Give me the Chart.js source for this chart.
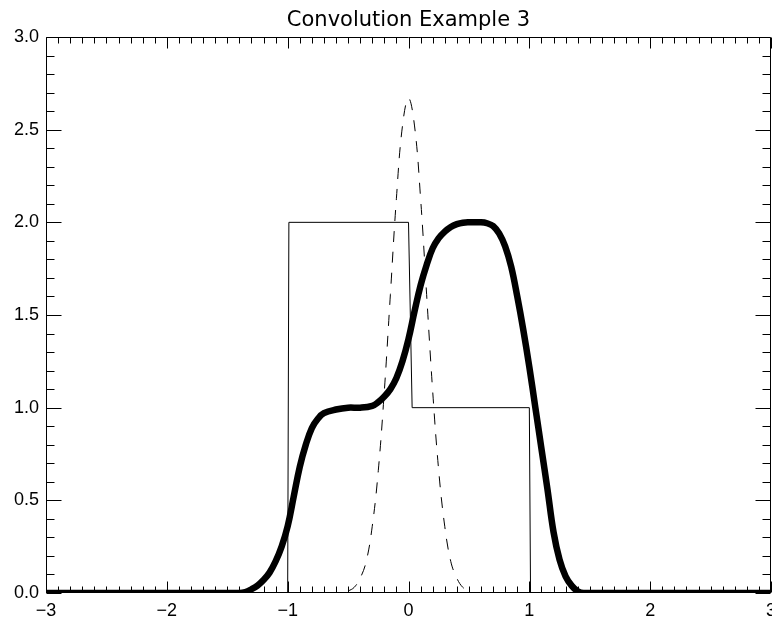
<!DOCTYPE html>
<html>
<head>
<meta charset="utf-8">
<script src="https://cdn.jsdelivr.net/npm/chart.js@4.4.1/dist/chart.umd.min.js"></script>
<style>
  html, body { margin: 0; padding: 0; background: #fff; overflow: hidden; }
  #wrap { width: 772px; height: 620px; overflow: hidden; }
</style>
</head>
<body>
<div id="wrap"><canvas id="convChart" width="800" height="620"></canvas></div>
<script>
// box step signal
const stepX = [-3, -1.0, -0.99, 0.0, 0.03, 1.0, 1.01, 3];
const stepY = [0, 0, 2, 2, 1, 1, 0, 0];

// gaussian kernel (dashed)
const kernelX = [-0.5, -0.45, -0.4, -0.35, -0.3, -0.25, -0.2, -0.15, -0.1, -0.05, 0,
                 0.05, 0.1, 0.15, 0.2, 0.25, 0.3, 0.35, 0.4, 0.45, 0.5];
const kernelY = [0.01, 0.03, 0.08, 0.17, 0.36, 0.66, 1.09, 1.61, 2.13, 2.52, 2.67,
                 2.52, 2.13, 1.61, 1.09, 0.66, 0.36, 0.17, 0.08, 0.03, 0.01];

// convolution result (thick)
const convX = [-3, -1.4, -1.35, -1.3, -1.25, -1.2, -1.15, -1.1, -1.05, -1.0, -0.95, -0.9, -0.85,
               -0.8, -0.75, -0.7, -0.6, -0.5, -0.4, -0.3, -0.25, -0.2, -0.15, -0.1, -0.05, 0.0,
               0.05, 0.1, 0.15, 0.2, 0.25, 0.3, 0.35, 0.4, 0.45, 0.5, 0.6, 0.65, 0.7, 0.75, 0.8, 0.85,
               0.9, 0.95, 1.0, 1.05, 1.1, 1.15, 1.2, 1.25, 1.3, 1.35, 1.4, 1.45, 3];
const convY = [0, 0, 0.005, 0.02, 0.04, 0.07, 0.11, 0.17, 0.25, 0.36, 0.52, 0.68, 0.8,
               0.89, 0.94, 0.97, 0.99, 1.0, 1.0, 1.01, 1.03, 1.06, 1.1, 1.16, 1.25, 1.37,
               1.52, 1.66, 1.77, 1.86, 1.915, 1.95, 1.975, 1.99, 1.998, 2.0, 2.0, 1.995, 1.98, 1.94,
               1.87, 1.76, 1.6, 1.42, 1.22, 1.0, 0.78, 0.56, 0.33, 0.18, 0.09, 0.04, 0.01, 0, 0];

const xTicks = [-3, -2, -1, 0, 1, 2, 3];
const xTickLabels = ['\u22123', '\u22122', '\u22121', '0', '1', '2', '3'];
const yTicks = [0, 0.5, 1, 1.5, 2, 2.5, 3];
const yTickLabels = ['0.0', '0.5', '1.0', '1.5', '2.0', '2.5', '3.0'];
const xMinorStep = 0.1;
const yMinorStep = 0.1;

const pts = (xs, ys) => xs.map((x, i) => ({ x: x, y: ys[i] }));

// IDL style frame with inward ticks on all four sides
const frameTicks = {
    id: 'frameTicks',
    beforeDatasetsDraw(chart) {
        const { ctx, chartArea: a, scales: { x, y } } = chart;
        const L = Math.round(a.left) + 0.5, R = Math.round(a.right) - 0.5;
        const T = Math.round(a.top) + 0.5, B = Math.round(a.bottom) - 0.5;
        ctx.save();
        ctx.strokeStyle = '#000';
        ctx.lineWidth = 1;
        ctx.beginPath();
        ctx.rect(L, T, R - L, B - T);
        for (let i = 0; i <= Math.round((x.max - x.min) / xMinorStep); i++) {
            const v = x.min + i * xMinorStep;
            const major = xTicks.some(t => Math.abs(t - v) < 1e-6);
            const len = major ? 11 : 6;
            const px = Math.round(x.getPixelForValue(v)) + 0.5;
            ctx.moveTo(px, B); ctx.lineTo(px, B - len);
            ctx.moveTo(px, T); ctx.lineTo(px, T + len);
        }
        for (let i = 0; i <= Math.round((y.max - y.min) / yMinorStep); i++) {
            const v = y.min + i * yMinorStep;
            const major = yTicks.some(t => Math.abs(t - v) < 1e-6);
            const len = major ? 15 : 8;
            const py = Math.round(y.getPixelForValue(v)) + 0.5;
            ctx.moveTo(L, py); ctx.lineTo(L + len, py);
            ctx.moveTo(R, py); ctx.lineTo(R - len, py);
        }
        ctx.stroke();
        ctx.restore();
    }
};

const labelFont = { family: '"Liberation Sans", Arial, sans-serif', size: 18 };

new Chart(document.getElementById('convChart'), {
    type: 'line',
    data: {
        datasets: [
            {
                label: 'Convolution',
                data: pts(convX, convY),
                borderColor: '#000',
                borderWidth: 6.5,
                pointRadius: 0,
                tension: 0.4,
                borderCapStyle: 'round',
                borderJoinStyle: 'round'
            },
            {
                label: 'Step',
                data: pts(stepX, stepY),
                borderColor: '#000',
                borderWidth: 1,
                pointRadius: 0,
                tension: 0
            },
            {
                label: 'Kernel',
                data: pts(kernelX, kernelY),
                borderColor: '#000',
                borderWidth: 1,
                borderDash: [11, 10],
                pointRadius: 0,
                tension: 0.4
            }
        ]
    },
    options: {
        responsive: false,
        animation: false,
        devicePixelRatio: 1,
        layout: { padding: { left: 0, right: 29, top: 0, bottom: 0 } },
        plugins: {
            legend: { display: false },
            tooltip: { enabled: false },
            title: {
                display: true,
                text: 'Convolution Example 3',
                fullSize: false,
                color: '#000',
                font: { family: '"DejaVu Sans", sans-serif', size: 21, weight: 'normal' },
                padding: { top: 8, bottom: 3.8 }
            }
        },
        scales: {
            x: {
                type: 'linear',
                min: -3,
                max: 3,
                afterBuildTicks: s => { s.ticks = xTicks.map(v => ({ value: v })); },
                afterFit: s => { s.height = 27; },
                grid: { display: false, drawTicks: false },
                border: { display: false },
                ticks: {
                    autoSkip: false,
                    maxRotation: 0,
                    padding: 7,
                    color: '#000',
                    font: labelFont,
                    callback: (v, i) => xTickLabels[i]
                }
            },
            y: {
                type: 'linear',
                min: 0,
                max: 3,
                afterBuildTicks: s => { s.ticks = yTicks.map(v => ({ value: v })); },
                afterFit: s => { s.width = 46; },
                grid: { display: false, drawTicks: false },
                border: { display: false },
                ticks: {
                    autoSkip: false,
                    padding: 7,
                    color: '#000',
                    font: labelFont,
                    callback: (v, i) => yTickLabels[i]
                }
            }
        }
    },
    plugins: [frameTicks]
});
</script>
</body>
</html>
